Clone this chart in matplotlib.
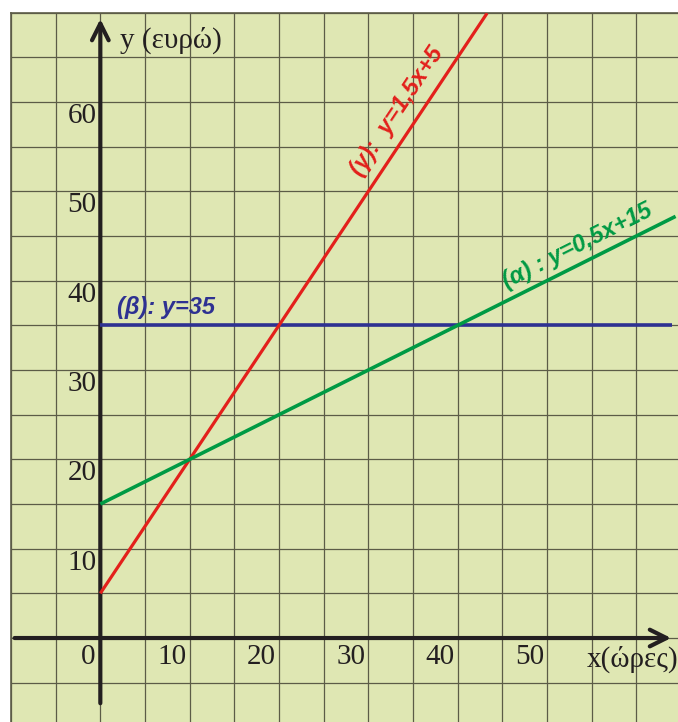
import numpy as np
import matplotlib.pyplot as plt

# Data: three cost lines (x = hours, y = euros)
x_alpha = [0, 64.4]
y_alpha = [15, 0.5 * 64.4 + 15]          # (α): y = 0,5x + 15
x_beta = [0, 64]
y_beta = [35, 35]                         # (β): y = 35
x_gamma = [0, 43.3]
y_gamma = [5, 1.5 * 43.3 + 5]             # (γ): y = 1,5x + 5

x_tick_vals = [10, 20, 30, 40, 50]
y_tick_vals = [10, 20, 30, 40, 50, 60]

bg = "#dfe7b3"
grid_col = "#5c5c47"
axis_col = "#231f20"
red = "#e3201b"
green = "#009a44"
blue = "#2e3192"

fig = plt.figure(figsize=(6.78, 7.22), dpi=100)
fig.patch.set_facecolor("white")
ax = fig.add_axes([11 / 678, 0, 667 / 678, (722 - 12.7) / 722])
ax.set_facecolor(bg)
ax.set_xlim(-10, 64.67)
ax.set_ylim(-9.4, 70)

# grid every 5 units
ax.set_xticks(np.arange(-10, 65, 5))
ax.set_yticks(np.arange(-5, 71, 5))
ax.tick_params(length=0, labelbottom=False, labelleft=False)
ax.grid(True, color=grid_col, lw=0.9)
for s in ["right", "bottom"]:
    ax.spines[s].set_visible(False)
for s in ["left", "top"]:
    ax.spines[s].set_color(grid_col)
    ax.spines[s].set_linewidth(1.2)

# axes with arrows
arrow = dict(arrowstyle="->", lw=3, color=axis_col, mutation_scale=30,
             shrinkA=0, shrinkB=0)
ax.annotate("", xy=(63.9, 0), xytext=(-9.6, 0), arrowprops=arrow)
ax.annotate("", xy=(0, 69.3), xytext=(0, -7.3), arrowprops=arrow)

# lines
ax.plot(x_gamma, y_gamma, color=red, lw=2.3, solid_capstyle="butt", zorder=4)
ax.plot(x_alpha, y_alpha, color=green, lw=2.6, solid_capstyle="butt", zorder=4)
ax.plot(x_beta, y_beta, color=blue, lw=2.6, solid_capstyle="butt", zorder=3)

# tick labels
serif = "Liberation Serif"
fs = 21
for v in y_tick_vals:
    ax.text(-0.45, v - 0.1, str(v), ha="right", va="top", fontsize=fs,
            family=serif, color=axis_col)
ax.text(-0.6, -0.7, "0", ha="right", va="top", fontsize=fs, family=serif,
        color=axis_col)
for v in x_tick_vals:
    ax.text(v - 0.35, -0.7, str(v), ha="right", va="top", fontsize=fs,
            family=serif, color=axis_col)

ax.text(2.2, 66.9, "y (ευρώ)", ha="left", va="center", fontsize=fs,
        family=serif, color=axis_col)
ax.text(54.4, -2.4, "x(ώρες)", ha="left", va="center", fontsize=fs,
        family=serif, color=axis_col)

# line labels
lab = dict(fontsize=17, family="Liberation Sans", weight="bold", style="italic")
ax.text(1.9, 37.0, "(β): y=35", ha="left", va="center", color=blue, **lab)
ax.text(53.4, 43.9, "(α) : y=0,5x+15", ha="center", va="center",
        rotation=np.degrees(np.arctan(0.5)), color=green, **lab)
ax.text(33.2, 59.0, "(γ):  y=1,5x+5", ha="center", va="center",
        rotation=np.degrees(np.arctan(1.5)), color=red, **lab)

fig.savefig("out.png", dpi=100)
